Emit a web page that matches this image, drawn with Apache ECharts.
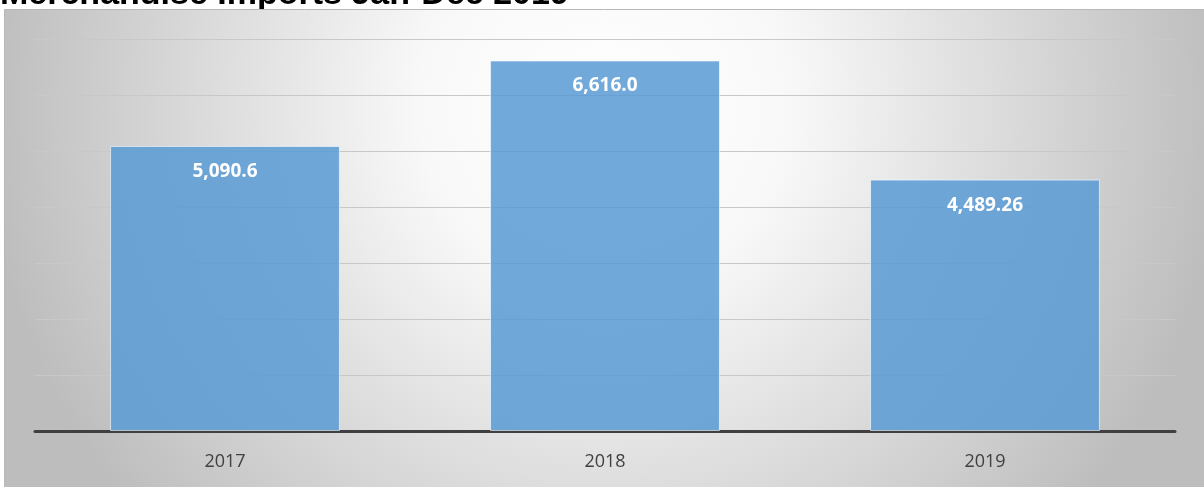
<!DOCTYPE html>
<html><head><meta charset="utf-8">
<script src="https://cdn.jsdelivr.net/npm/echarts@6/dist/echarts.min.js"></script>
<style>html,body{margin:0;padding:0;background:#fff}#c{width:1204px;height:487px}</style>
</head><body><div id="c"></div>
<script>
const title = 'Merchandise Imports Jan-Dec 2019';
const categories = ['2017', '2018', '2019'];
const values = [5090.6, 6616.0, 4489.26];
const valueLabels = ['5,090.6', '6,616.0', '4,489.26'];

const chart = echarts.init(document.getElementById('c'), null, {renderer: 'canvas'});
chart.setOption({
  animation: false,
  graphic: [
    {type: 'text', z: -20, left: 0, top: -22,
     style: {text: title, fill: '#000', font: 'bold 34px "Liberation Sans", Arial, sans-serif'}},
    {type: 'rect', z: -10, shape: {x: 4.5, y: 9.5, width: 1200, height: 478},
     style: {fill: {type: 'radial', x: 0.5, y: 0.2, r: 1.3,
       colorStops: [{offset: 0, color: '#ffffff'}, {offset: 0.3, color: '#f8f8f8'}, {offset: 1, color: '#bdbdbd'}]},
       stroke: '#b8b8b8', lineWidth: 1}}
  ],
  grid: {left: 35, right: 29, top: 39, bottom: 56},
  xAxis: {type: 'category', data: categories,
    axisLine: {lineStyle: {color: '#404040', width: 3}},
    axisTick: {show: false},
    axisLabel: {color: '#404040', fontSize: 18, margin: 22, fontFamily: '"Open Sans", sans-serif'}},
  yAxis: {type: 'value', min: 0, max: 7000, interval: 1000,
    axisLabel: {show: false}, axisLine: {show: false}, axisTick: {show: false},
    splitLine: {lineStyle: {color: '#c8c8c8', width: 1}}},
  series: [{type: 'bar', data: values, barWidth: '60.5%',
    itemStyle: {color: 'rgba(91,155,213,0.86)', borderColor: 'rgba(255,255,255,0.6)', borderWidth: 1},
    label: {show: true, position: 'insideTop', distance: 16, color: '#fff', fontWeight: 'bold', fontSize: 19,
      fontFamily: '"Open Sans", sans-serif',
      formatter: p => valueLabels[p.dataIndex]}}]
});
</script></body></html>
